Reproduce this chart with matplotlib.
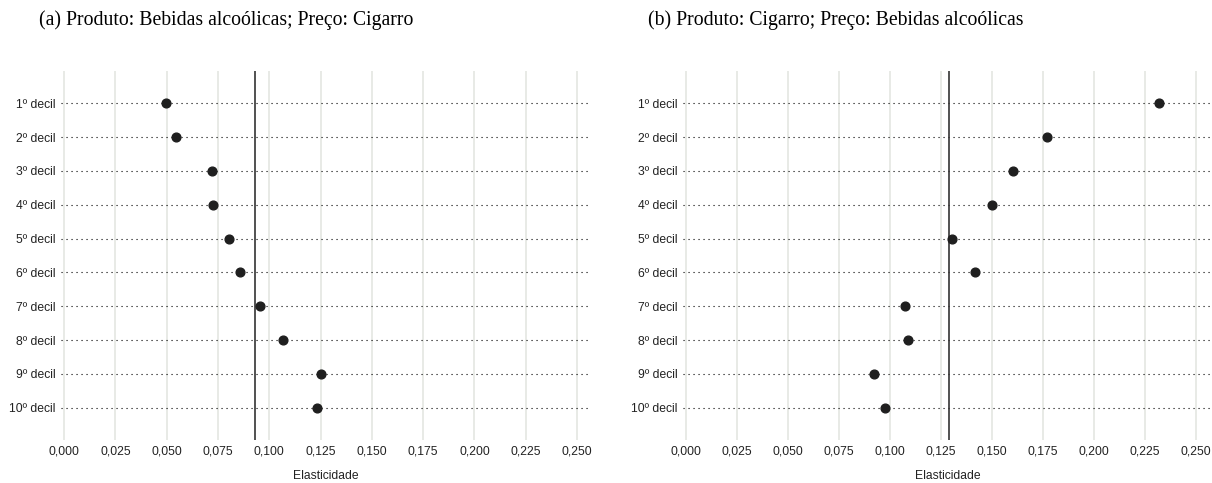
import matplotlib
matplotlib.use("Agg")
import matplotlib.pyplot as plt
import numpy as np

plt.rcParams["font.family"] = ["Liberation Sans", "DejaVu Sans"]

deciles = ["1º decil", "2º decil", "3º decil", "4º decil", "5º decil",
           "6º decil", "7º decil", "8º decil", "9º decil", "10º decil"]

# (a) Produto: Bebidas alcoólicas; Preço: Cigarro
elast_a = [0.0495, 0.0544, 0.0722, 0.0727, 0.0805, 0.0858, 0.0953, 0.1067, 0.1252, 0.1231]
ref_a = 0.0931

# (b) Produto: Cigarro; Preço: Bebidas alcoólicas
elast_b = [0.2320, 0.1770, 0.1604, 0.1500, 0.1304, 0.1418, 0.1075, 0.1091, 0.0924, 0.0978]
ref_b = 0.1293

xticks = [0, 0.025, 0.05, 0.075, 0.1, 0.125, 0.15, 0.175, 0.2, 0.225, 0.25]
titles = ["(a) Produto: Bebidas alcoólicas; Preço: Cigarro",
          "(b) Produto: Cigarro; Preço: Bebidas alcoólicas"]

W, H = 1212, 483
fig = plt.figure(figsize=(W / 100, H / 100), dpi=100)

panels = [
    (61, 590, elast_a, ref_a, (-0.0015, 0.2563), 226),
    (683, 1212, elast_b, ref_b, (-0.0013, 0.2580), 836),
]

ypos = np.arange(1, len(deciles) + 1)

for i, (x0, x1, vals, ref, xlim, tx) in enumerate(panels):
    ax = fig.add_axes([x0 / W, 43 / H, (x1 - x0) / W, (440 - 71) / H])
    for xv in xticks:
        ax.axvline(xv, color="#e6e8e4", lw=1.3, zorder=0)
    for y in ypos:
        ax.axhline(y, color="black", lw=0.8, linestyle=(0, (1, 3.5)), zorder=1)
    ax.axvline(ref, color="#333333", lw=1.2, zorder=2)
    ax.plot(vals, ypos, "o", color="#1f1f1f", markersize=6.3, zorder=3)

    ax.set_xlim(*xlim)
    ax.set_ylim(len(deciles) + 0.955, 0.045)
    ax.set_yticks(ypos)
    ax.set_yticklabels(deciles)
    ax.set_xticks(xticks)
    ax.set_xticklabels([f"{v:.3f}".replace(".", ",") for v in xticks])
    ax.tick_params(length=0, labelsize=8.7, labelcolor="#222222", pad=4)
    for s in ax.spines.values():
        s.set_visible(False)
    ax.set_xlabel("Elasticidade", fontsize=8.7, color="#222222", labelpad=9)

    fig.text(tx / W, 1 - 20 / H, titles[i], family="Liberation Serif",
             fontsize=14.2, ha="center", va="center")

fig.savefig("out.png", dpi=100)
